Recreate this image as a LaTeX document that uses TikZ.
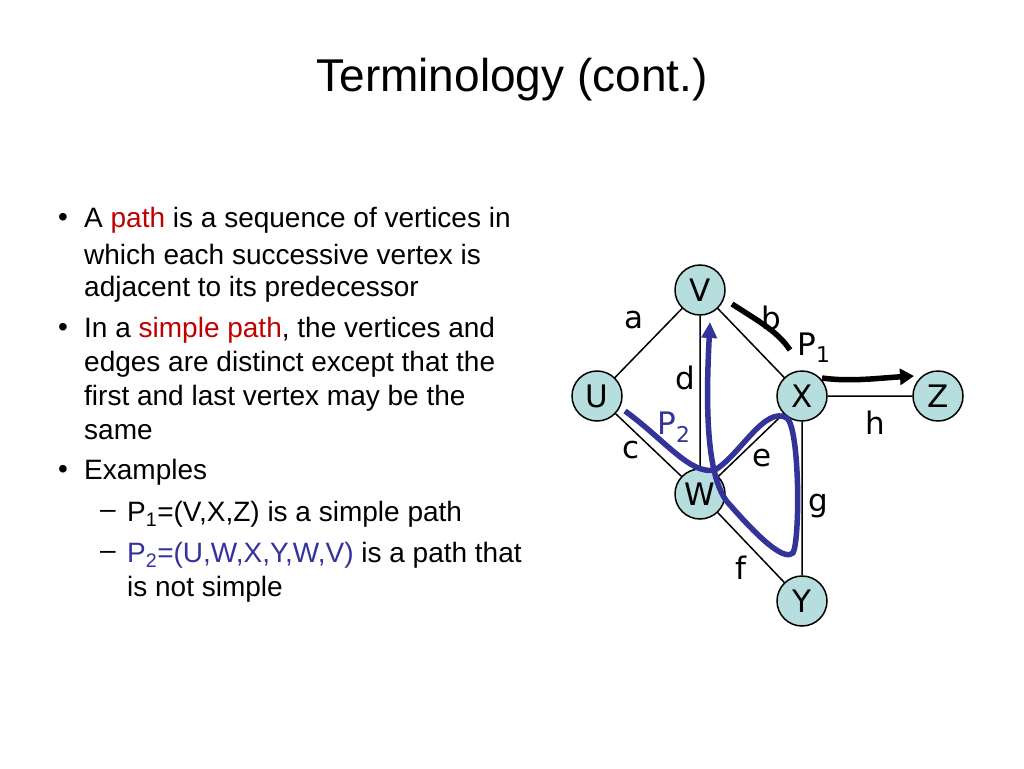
\documentclass[tikz,border=0pt]{standalone}
\usepackage{fontspec}
\usetikzlibrary{arrows.meta}
\setmainfont{Liberation Sans}
\newfontfamily\vfont{DejaVu Sans}
\definecolor{hl}{RGB}{192,0,0}
\definecolor{pb}{RGB}{51,51,153}
\definecolor{nf}{RGB}{183,222,222}
\begin{document}
\begin{tikzpicture}[x=1pt,y=-1pt,
 vert/.style={circle,draw,line width=1.5pt,fill=nf,minimum size=50pt,inner sep=0pt,font=\vfont\fontsize{31}{31}\selectfont},
 elab/.style={font=\vfont\fontsize{31}{31}\selectfont},
 edge/.style={line width=1.5pt},
 body/.style={anchor=west,font=\fontsize{28}{28}\selectfont,inner sep=0pt}]
\useasboundingbox (0,0) rectangle (1024,768);
\node[font=\fontsize{46}{46}\selectfont] (title) at (512,80) {Terminology (cont.)};
% bullets
\foreach \y/\n in {220/b1,330/b2,472/b3}{\node[body] (\n) at (58,\y) {\textbullet};}
\node[body] (t1) at (84,220) {A \textcolor{hl}{path} is a sequence of vertices in};
\node[body] (t2) at (84,254) {which each successive vertex is};
\node[body] (t3) at (84,289) {adjacent to its predecessor};
\node[body] (t4) at (84,330) {In a \textcolor{hl}{simple path}, the vertices and};
\node[body] (t5) at (84,364) {edges are distinct except that the};
\node[body] (t6) at (84,398) {first and last vertex may be the};
\node[body] (t7) at (84,432) {same};
\node[body] (t8) at (84,472) {Examples};
\node[body] (d1) at (100,514) {--};
\node[body] (d2) at (100,555) {--};
\node[body] (t9) at (127,514) {P\textsubscript{1}=(V,X,Z) is a simple path};
\node[body] (t10) at (127,555) {\textcolor{pb}{P\textsubscript{2}=(U,W,X,Y,W,V)} is a path that};
\node[body] (t11) at (127,589) {is not simple};
% graph
\node[vert] (V) at (700,290) {V};
\node[vert] (U) at (597,396) {U};
\node[vert] (X) at (802,396) {X};
\node[vert] (Z) at (938,396) {Z};
\node[vert] (W) at (700,494) {W};
\node[vert] (Y) at (802,601) {Y};
\draw[edge] (U)--(V) (V)--(X) (V)--(W) (U)--(W) (X)--(W) (X)--(Y) (W)--(Y) (X)--(Z);
\node[elab] (la) at (634,320) {a};
\node[elab] (lb) at (771,318) {b};
\node[elab] (lc) at (631,450) {c};
\node[elab] (ld) at (685,378) {d};
\node[elab] (le) at (762,458) {e};
\node[elab] (lf) at (741,568) {f};
\node[elab] (lg) at (818,506) {g};
\node[elab] (lh) at (875,423) {h};
\node[elab] (p1) at (814,348) {P\textsubscript{1}};
\node[elab,text=pb] (p2) at (674,427) {P\textsubscript{2}};
% P1
\draw[line width=5.5pt] (732,304) .. controls (760,322) and (778,332) .. (790,350);
\draw[line width=5.5pt,-{Triangle[length=14pt,width=16pt]}] (822,378) .. controls (850,382) and (880,378) .. (914,376);
% P2
\draw[pb,line width=5.5pt,line join=round,-{Triangle[length=16pt,width=15pt]}]
 (625,411) .. controls (665,440) and (690,475) .. (715,470)
 .. controls (740,455) and (765,405) .. (787,418)
 .. controls (800,430) and (800,540) .. (793,553)
 .. controls (785,560) and (765,545) .. (730,505)
 .. controls (705,480) and (706,400) .. (710,322);
\end{tikzpicture}
\end{document}
